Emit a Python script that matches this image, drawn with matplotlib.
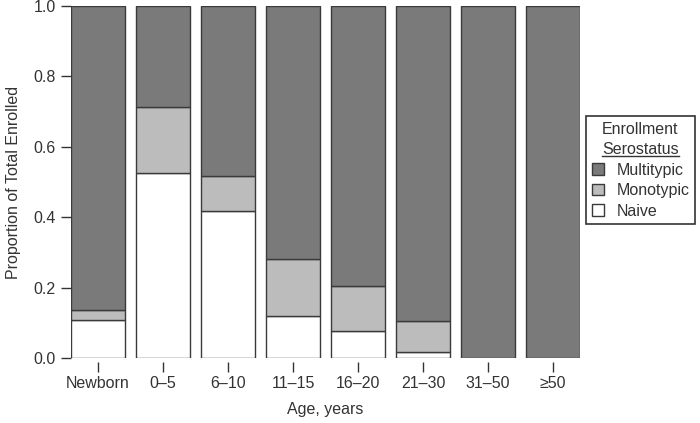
import matplotlib.pyplot as plt
from matplotlib.lines import Line2D
import numpy as np

plt.rcParams['font.family'] = ['Liberation Sans', 'DejaVu Sans']

ages = ['Newborn', '0–5', '6–10', '11–15', '16–20', '21–30', '31–50', '≥50']
naive = [0.109, 0.525, 0.419, 0.120, 0.077, 0.016, 0.0, 0.0]
monotypic = [0.027, 0.189, 0.097, 0.160, 0.127, 0.090, 0.0, 0.0]
multitypic = [1 - a - b for a, b in zip(naive, monotypic)]

fig = plt.figure(figsize=(7, 4.23), dpi=100)
ax = fig.add_axes([71/700, 1-358/423, 509/700, 352/423])

x = np.arange(len(ages))
w = 0.83
edge = '#3a3a3a'
b1 = ax.bar(x, naive, w, color='white', edgecolor=edge, linewidth=1, label='Naive')
b2 = ax.bar(x, monotypic, w, bottom=naive, color='#bcbcbc', edgecolor=edge, linewidth=1, label='Monotypic')
bot = [a + b for a, b in zip(naive, monotypic)]
b3 = ax.bar(x, multitypic, w, bottom=bot, color='#7a7a7a', edgecolor=edge, linewidth=1, label='Multitypic')

ax.set_xlim(-w/2, len(ages) - 1 + w/2)
ax.set_ylim(0, 1)
for s in ['top', 'right', 'left']:
    ax.spines[s].set_visible(False)
ax.spines['bottom'].set_position(('outward', 3))
ax.spines['bottom'].set_visible(False)
ax.set_yticks([0, 0.2, 0.4, 0.6, 0.8, 1.0])
ax.set_yticklabels(['0.0', '0.2', '0.4', '0.6', '0.8', '1.0'])
ax.set_xticks(x)
ax.set_xticklabels(ages)
ax.tick_params(axis='both', labelsize=11.5, colors='#333333', length=7, width=1, direction='out')
ax.tick_params(axis='y', pad=4)
ax.tick_params(axis='x', pad=3)
ax.set_ylabel('Proportion of Total Enrolled', fontsize=11.5, color='#333333', labelpad=9)
ax.set_xlabel('Age, years', fontsize=11.5, color='#333333', labelpad=8)

leg = fig.legend([b3, b2, b1], ['Multitypic', 'Monotypic', 'Naive'],
                 title='Enrollment\nSerostatus', title_fontsize=11.5, fontsize=11.5,
                 loc='upper left', bbox_to_anchor=(586/700, 1-116/423),
                 borderaxespad=0, fancybox=False, edgecolor='#333333',
                 handlelength=0.75, handleheight=0.75, handletextpad=0.8,
                 labelspacing=0.35, borderpad=0.35, framealpha=1)
leg.get_frame().set_linewidth(1.2)
for t in leg.get_texts():
    t.set_color('#333333')
leg.get_title().set_color('#333333')
leg.get_title().set_linespacing(1.45)

# underline the second title line
fig.canvas.draw()
r = fig.canvas.get_renderer()
tb = leg.get_title().get_window_extent(r)
tmp = fig.text(0, 0, 'Serostatus', fontsize=11.5)
tw = tmp.get_window_extent(r).width
tmp.remove()
cx = (tb.x0 + tb.x1) / 2
uy = tb.y0 + 1
p0 = fig.transFigure.inverted().transform((cx - tw/2, uy))
p1 = fig.transFigure.inverted().transform((cx + tw/2, uy))
fig.add_artist(Line2D([p0[0], p1[0]], [p0[1], p1[1]], color='#333333', linewidth=1, zorder=10))

fig.savefig('out.png', dpi=100)
